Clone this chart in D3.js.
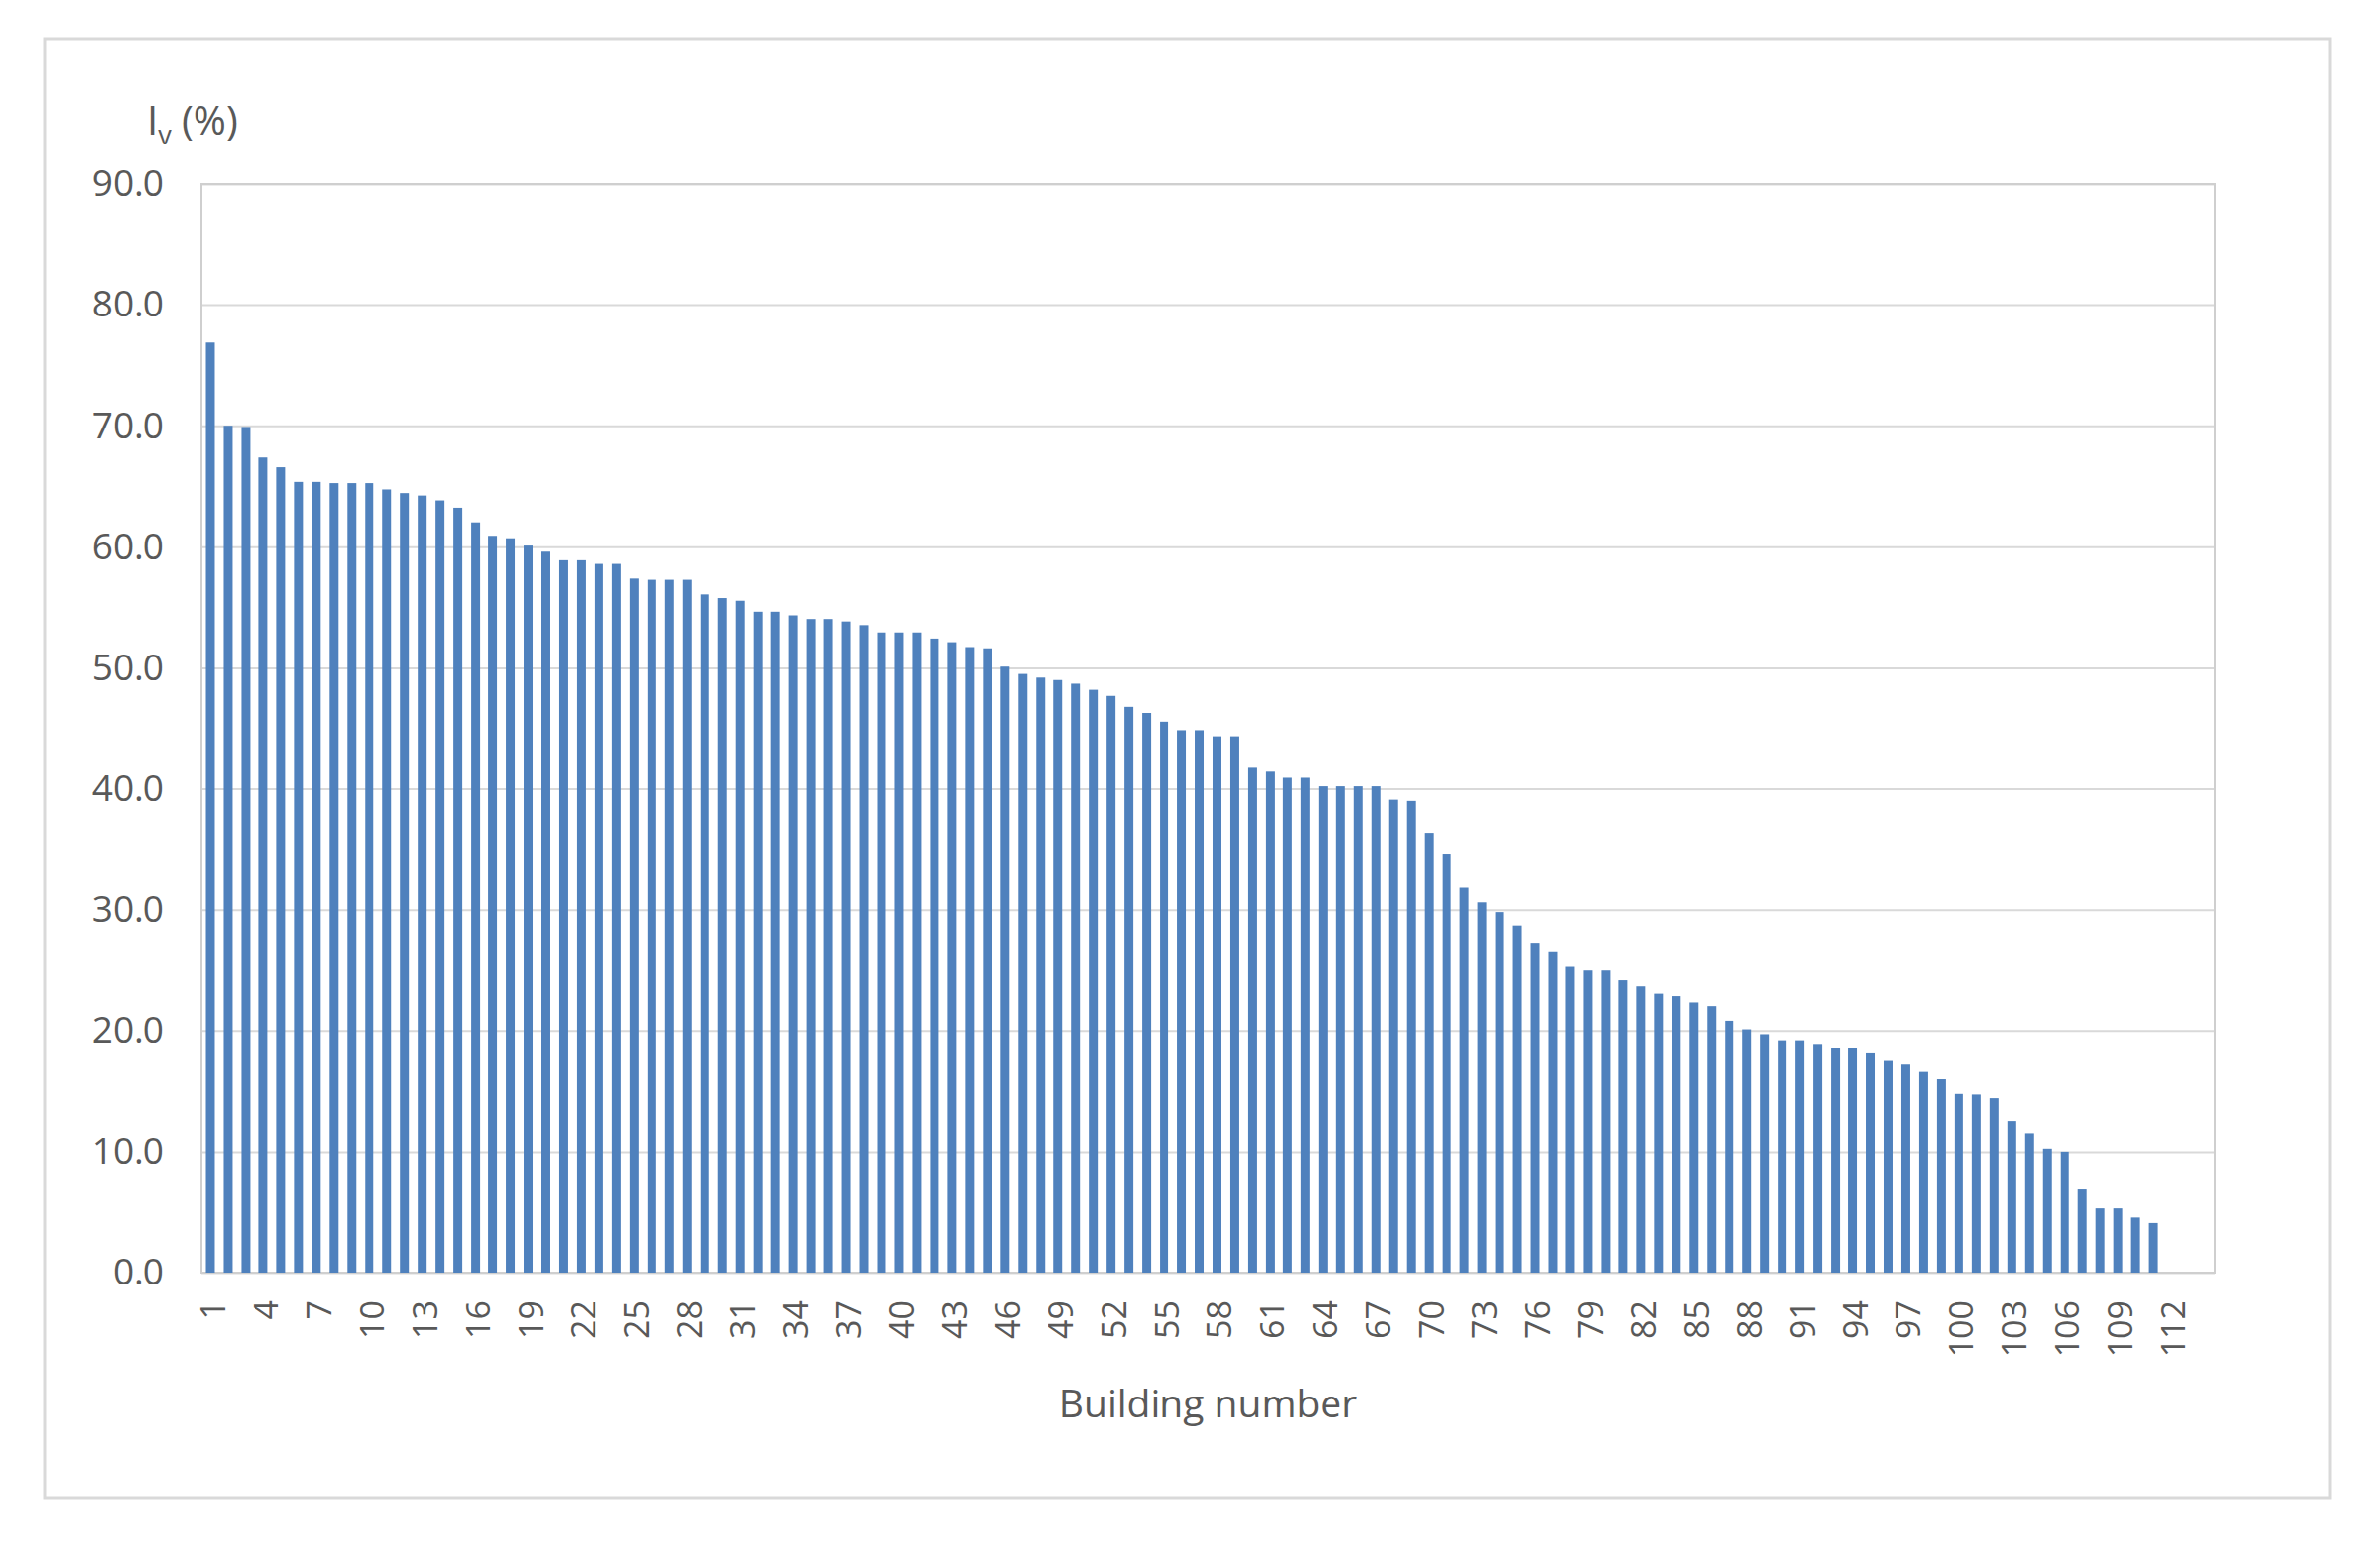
<!DOCTYPE html>
<html>
<head>
<meta charset="utf-8">
<script src="https://cdn.jsdelivr.net/npm/d3@7"></script>
<style>
  html, body { margin: 0; padding: 0; background: #fff; }
  svg { display: block; }
  text { font-family: "Open Sans", "Noto Sans", sans-serif; fill: #595959; }
</style>
</head>
<body>
<svg id="chart" width="2422" height="1568"></svg>
<script>
// ---- data ----
const categories = d3.range(1, 115).map(String); // 114 category slots
const values = [
  76.9, 70.0, 69.9, 67.4, 66.6, 65.4, 65.4, 65.3, 65.3, 65.3,
  64.7, 64.4, 64.2, 63.8, 63.2, 62.0, 60.9, 60.7, 60.1, 59.6,
  58.9, 58.9, 58.6, 58.6, 57.4, 57.3, 57.3, 57.3, 56.1, 55.8,
  55.5, 54.6, 54.6, 54.3, 54.0, 54.0, 53.8, 53.5, 52.9, 52.9,
  52.9, 52.4, 52.1, 51.7, 51.6, 50.1, 49.5, 49.2, 49.0, 48.7,
  48.2, 47.7, 46.8, 46.3, 45.5, 44.8, 44.8, 44.3, 44.3, 41.8,
  41.4, 40.9, 40.9, 40.2, 40.2, 40.2, 40.2, 39.1, 39.0, 36.3,
  34.6, 31.8, 30.6, 29.8, 28.7, 27.2, 26.5, 25.3, 25.0, 25.0,
  24.2, 23.7, 23.1, 22.9, 22.3, 22.0, 20.8, 20.1, 19.7, 19.2,
  19.2, 18.9, 18.6, 18.6, 18.2, 17.5, 17.2, 16.6, 16.0, 14.8,
  14.75, 14.45, 12.5, 11.5, 10.25, 10.0, 6.9, 5.35, 5.35, 4.6,
  4.15
];
const xTickLabels = d3.range(1, 113, 3).map(String); // 1,4,...,112
const yTicks = d3.range(0, 91, 10);
const xTitle = "Building number";

// ---- layout ----
const svg = d3.select("#chart");
const plot = { left: 205, right: 2254, top: 187, bottom: 1295 };

// outer frame
svg.append("rect")
  .attr("x", 46).attr("y", 40).attr("width", 2325).attr("height", 1484)
  .attr("fill", "#fff").attr("stroke", "#d9d9d9").attr("stroke-width", 3);

const x = d3.scaleBand()
  .domain(categories)
  .range([plot.left, plot.right])
  .paddingInner(0.5)
  .paddingOuter(0.25);

const y = d3.scaleLinear()
  .domain([0, 90])
  .range([plot.bottom, plot.top]);

// gridlines + y labels
const yAxis = d3.axisLeft(y).tickValues(yTicks)
  .tickSize(-(plot.right - plot.left)).tickPadding(38)
  .tickFormat(d3.format(".1f"));
const gy = svg.append("g")
  .attr("transform", `translate(${plot.left},0)`)
  .call(yAxis);
gy.select(".domain").remove();
gy.selectAll(".tick line").attr("stroke", "#d9d9d9").attr("stroke-width", 2);
gy.selectAll(".tick text")
  .attr("font-size", 37).attr("fill", "#595959")
  .style("font-family", '"Open Sans", sans-serif');

// plot border
svg.append("rect")
  .attr("x", plot.left).attr("y", plot.top)
  .attr("width", plot.right - plot.left).attr("height", plot.bottom - plot.top)
  .attr("fill", "none").attr("stroke", "#cfcfcf").attr("stroke-width", 2);

// bars
const data = values.map((v, i) => ({ cat: categories[i], v }));
svg.append("g").selectAll("rect")
  .data(data).join("rect")
  .attr("x", d => x(d.cat))
  .attr("width", x.bandwidth())
  .attr("y", d => y(d.v))
  .attr("height", d => y(0) - y(d.v))
  .attr("fill", "#4f81bd");

// x axis labels
const xAxis = d3.axisBottom(x).tickValues(xTickLabels).tickSize(0).tickPadding(0);
const gx = svg.append("g")
  .attr("transform", `translate(0,${plot.bottom})`)
  .call(xAxis);
gx.select(".domain").remove();
gx.selectAll(".tick text")
  .attr("font-size", 34).attr("fill", "#595959")
  .style("font-family", '"Open Sans", sans-serif')
  .attr("text-anchor", "end")
  .attr("dy", null)
  .attr("dominant-baseline", "central")
  .attr("transform", "translate(2,28) rotate(-90)")
  .attr("y", 0).attr("x", 0);

// axis titles
svg.append("text")
  .attr("x", (plot.left + plot.right) / 2)
  .attr("y", 1442)
  .attr("text-anchor", "middle")
  .attr("font-size", 39)
  .text(xTitle);

const yt = svg.append("text")
  .attr("x", 150).attr("y", 137)
  .attr("font-size", 40);
yt.append("tspan").text("I");
yt.append("tspan").attr("font-size", 27).attr("dy", 10).text("v");
yt.append("tspan").attr("dy", -10).text(" (%)");
</script>
</body>
</html>
